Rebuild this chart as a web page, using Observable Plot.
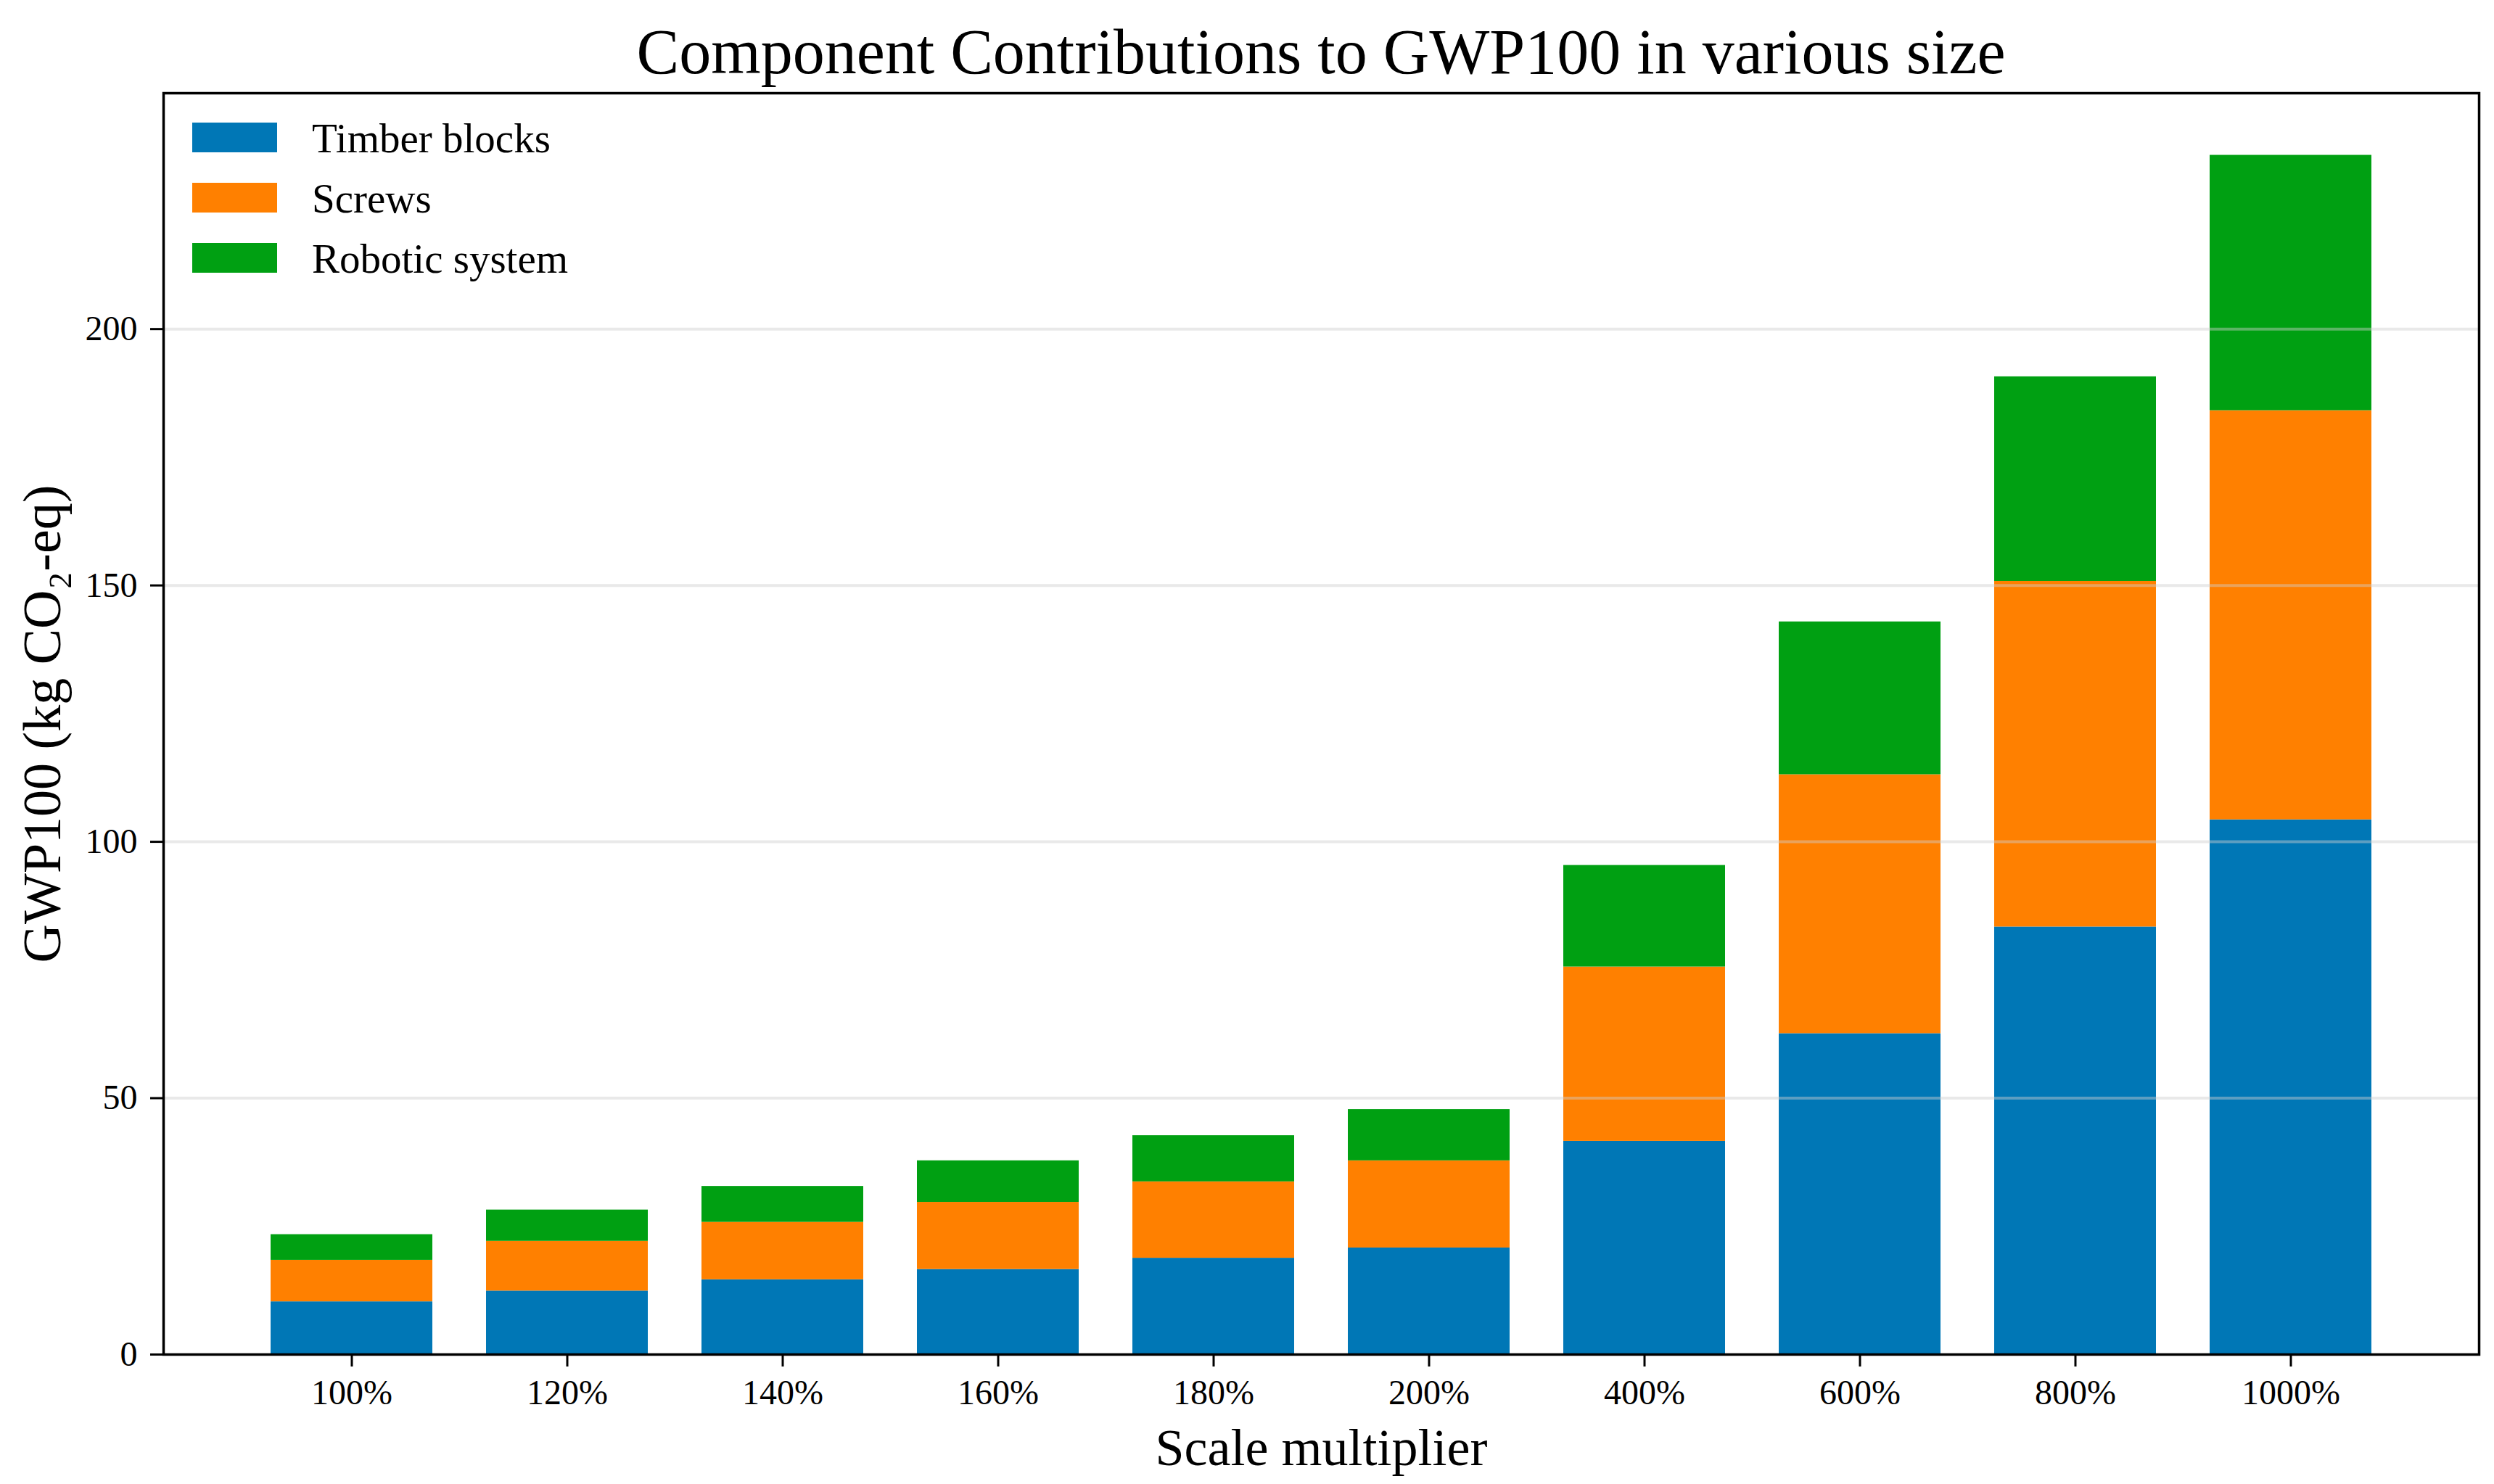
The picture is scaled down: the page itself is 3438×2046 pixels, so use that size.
<!DOCTYPE html>
<html>
<head>
<meta charset="utf-8">
<script src="https://cdn.jsdelivr.net/npm/d3@7"></script>
<script src="https://cdn.jsdelivr.net/npm/@observablehq/plot@0.6"></script>
<style>
  html, body { margin: 0; padding: 0; background: white; overflow: hidden; }
  body { width: 3438px; height: 2046px; position: relative; font-family: "Liberation Serif", "Times New Roman", serif; color: black; }
  #title { box-sizing: border-box; height: 118px; padding: 23px 21px 0 225px; line-height: 98px; font-size: 88px; text-align: center; white-space: nowrap; }
  #legend { position: absolute; left: 0; top: 0; }
  .sw { position: absolute; left: 265px; width: 117px; height: 41px; }
  .lt { position: absolute; left: 430px; font-size: 57px; line-height: 57px; white-space: nowrap; }
  svg { display: block; }
</style>
</head>
<body>
<div id="title">Component Contributions to GWP100 in various size</div>
<div id="chart"></div>
<div id="legend"></div>
<script>
const categories = ["100%", "120%", "140%", "160%", "180%", "200%", "400%", "600%", "800%", "1000%"];
const series = ["Timber blocks", "Screws", "Robotic system"];
const colors = ["#0077b6", "#ff8000", "#00a012"];
const timber  = [10.3, 12.4, 14.6, 16.6, 18.8, 20.8, 41.6, 62.6, 83.4, 104.3];
const screws  = [8.1, 9.7, 11.2, 13.1, 14.9, 17.0, 34.0, 50.5, 67.4, 79.8];
const robotic = [5.0, 6.1, 7.0, 8.1, 9.0, 10.0, 19.8, 29.8, 39.9, 49.8];
const yTicks = [0, 50, 100, 150, 200];
const gridTicks = [50, 100, 150, 200];
const xLabel = "Scale multiplier";
const yLabel = "GWP100 (kg CO\u2082-eq)";

const valuesBySeries = [timber, screws, robotic];
const data = categories.flatMap((c, i) =>
  series.map((s, k) => ({cat: c, comp: s, value: valuesBySeries[k][i]}))
);

const chart = Plot.plot({
  width: 3438,
  height: 1928,
  marginTop: 10,
  marginBottom: 179,
  marginLeft: 225,
  marginRight: 21,
  style: {fontFamily: "'Liberation Serif', 'Times New Roman', serif", fontSize: "48px", color: "black", background: "white", overflow: "visible"},
  x: {domain: categories, paddingInner: 0.25, paddingOuter: 0.4875, align: 0.5, label: null},
  y: {domain: [0, 246], label: null},
  color: {domain: series, range: colors},
  marks: [
    Plot.barY(data, {x: "cat", y: "value", fill: "comp"}),
    Plot.ruleY(gridTicks, {stroke: "#cfcfcf", strokeOpacity: 0.45, strokeWidth: 4}),
    Plot.axisX({tickSize: 17, tickPadding: 17, strokeWidth: 3, fontSize: 48, label: null, fill: "black", fontFamily: "'Liberation Serif', serif"}),
    Plot.axisY({ticks: yTicks, tickSize: 18, tickPadding: 18, strokeWidth: 3, fontSize: 48, label: null, fill: "black", fontFamily: "'Liberation Serif', serif"}),
    Plot.frame({stroke: "black", strokeWidth: 3.5}),
    Plot.text([xLabel], {text: d => d, frameAnchor: "bottom", dy: 129, fontSize: 72, lineAnchor: "middle", textAnchor: "middle", fill: "black"}),
    Plot.text([yLabel], {text: d => d, frameAnchor: "left", dx: -166, rotate: -90, fontSize: 74, lineAnchor: "middle", textAnchor: "middle", fill: "black"})
  ]
});
document.getElementById("chart").appendChild(chart);

const legend = document.getElementById("legend");
const rowTops = [169, 252, 335];
series.forEach((s, k) => {
  const sw = document.createElement("div");
  sw.className = "sw";
  sw.style.top = rowTops[k] + "px";
  sw.style.background = colors[k];
  legend.appendChild(sw);
  const t = document.createElement("div");
  t.className = "lt";
  t.style.top = (rowTops[k] - 7) + "px";
  t.textContent = s;
  legend.appendChild(t);
});
</script>
</body>
</html>
